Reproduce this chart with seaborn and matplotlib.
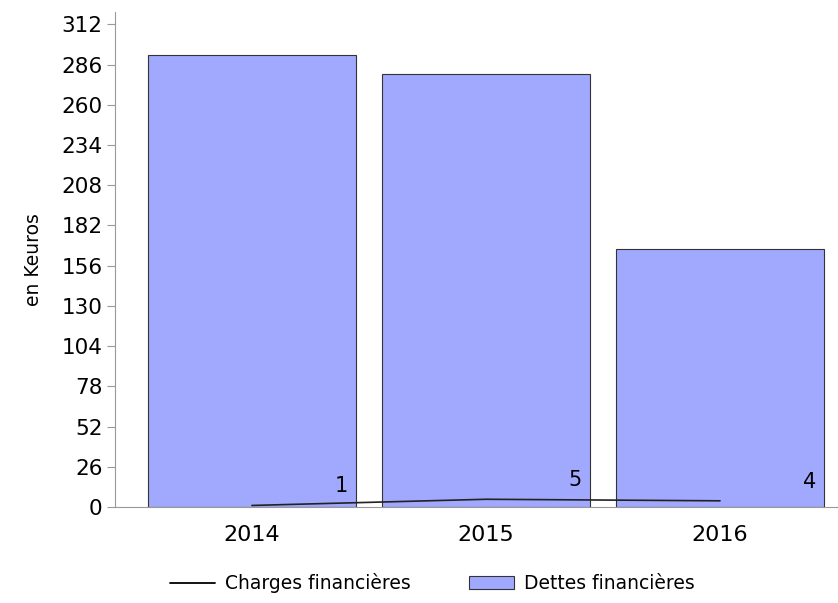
import matplotlib.pyplot as plt
import numpy as np
import pandas as pd
import seaborn as sns
from matplotlib.lines import Line2D
from matplotlib.patches import Patch

# Data
years = ['2014', '2015', '2016']
dettes = [292, 280, 167]
charges = [1, 5, 4]
y_ticks = [0, 26, 52, 78, 104, 130, 156, 182, 208, 234, 260, 286, 312]

bar_color = '#a1a9ff'
axis_color = '#999999'

sns.set_style('white')
plt.rcParams['font.family'] = ['DejaVu Sans']
plt.rcParams['text.color'] = 'black'
plt.rcParams['axes.labelcolor'] = 'black'
plt.rcParams['xtick.labelcolor'] = 'black'
plt.rcParams['ytick.labelcolor'] = 'black'

df = pd.DataFrame({'year': years, 'dettes': dettes, 'charges': charges})

fig = plt.figure(figsize=(8.38, 6.03), dpi=100)
ax = fig.add_axes([115 / 838, 96 / 603, 723 / 838, 495 / 603])

sns.barplot(data=df, x='year', y='dettes', color=bar_color, saturation=1,
            width=0.89, edgecolor='#333333', linewidth=0.8, ax=ax)
sns.lineplot(x=np.arange(len(years)), y=df['charges'], color='#222222',
             linewidth=1.2, ax=ax)

# value labels for the charges, near the right edge of each bar
for i, v in enumerate(charges):
    ax.annotate(str(v), xy=(i, v), xytext=(i + 0.41, v + 6),
                textcoords='data', ha='right', va='bottom', fontsize=15)

ax.set_xlim(-0.585, 2.504)
ax.set_ylim(0, 320)
ax.set_yticks(y_ticks)
ax.set_xlabel('')
ax.set_ylabel('en Keuros', fontsize=13.5, labelpad=13)
ax.tick_params(axis='y', length=6, width=0.8, color=axis_color, labelsize=15.5, pad=3, left=True)
ax.tick_params(axis='x', length=0, labelsize=16, pad=13)

for side in ['top', 'right']:
    ax.spines[side].set_visible(False)
ax.spines['left'].set_color(axis_color)
ax.spines['bottom'].set_color(axis_color)
ax.spines['left'].set_linewidth(0.8)
ax.spines['bottom'].set_linewidth(0.8)

handles = [Line2D([0], [0], color='black', linewidth=1.3),
           Patch(facecolor=bar_color, edgecolor='#333333', linewidth=0.8)]
fig.legend(handles, ['Charges financières', 'Dettes financières'],
           loc='center left', bbox_to_anchor=(0.183, 0.033), ncol=2, frameon=False,
           fontsize=13.5, handlelength=2.4, handletextpad=0.5, columnspacing=3.15)

plt.savefig('out.png', dpi=100)
